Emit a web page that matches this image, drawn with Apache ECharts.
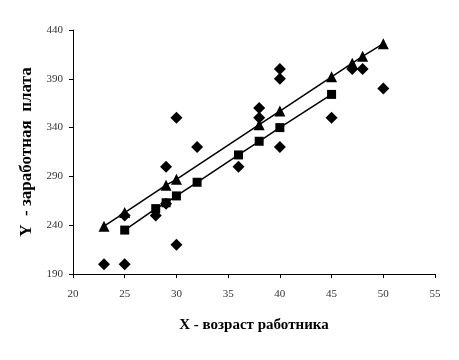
<!DOCTYPE html>
<html>
<head>
<meta charset="utf-8">
<script src="https://cdn.jsdelivr.net/npm/echarts@6/dist/echarts.min.js"></script>
<style>html,body{margin:0;padding:0;background:#fff}#c{width:459px;height:360px}</style>
</head>
<body>
<div id="c"></div>
<script>
// Observed data (diamonds)
var obsX = [23, 25, 25, 28, 29, 29, 30, 30, 32, 36, 38, 38, 40, 40, 40, 45, 47, 48, 50];
var obsY = [200, 200, 250, 250, 300, 262, 350, 220, 320, 300, 360, 350, 400, 390, 320, 350, 400, 400, 380];
// Line with squares
var sqX = [25, 28, 29, 30, 32, 36, 38, 40, 45];
var sqY = [235, 257, 263, 270, 284, 312, 326, 340, 374];
// Line with triangles
var trX = [23, 25, 29, 30, 38, 40, 45, 47, 48, 50];
var trY = [239, 253, 281, 287, 343, 357, 392, 406, 413, 426];
// Axis labels
var xName = 'X - возраст работника';
var yName = 'Y  - заработная  плата';

function pairs(xs, ys) { return xs.map(function (x, i) { return [x, ys[i]]; }); }

var chart = echarts.init(document.getElementById('c'), null, { renderer: 'canvas' });
var labelStyle = { color: '#333', fontFamily: 'Liberation Serif', fontSize: 11 };
chart.setOption({
  animation: false,
  backgroundColor: '#fff',
  grid: { left: 73, right: 24, top: 30, bottom: 86 },
  xAxis: {
    type: 'value', min: 20, max: 55, interval: 5,
    splitLine: { show: false },
    axisLine: { lineStyle: { color: '#000', width: 1 } },
    axisTick: { length: 4, lineStyle: { color: '#000' } },
    axisLabel: Object.assign({ margin: 15 }, labelStyle),
    name: xName, nameLocation: 'middle', nameGap: 44,
    nameTextStyle: { color: '#000', fontFamily: 'Liberation Serif', fontWeight: 'bold', fontSize: 15 }
  },
  yAxis: {
    type: 'value', min: 190, max: 440, interval: 50,
    splitLine: { show: false },
    axisLine: { lineStyle: { color: '#000', width: 1 } },
    axisTick: { length: 4, lineStyle: { color: '#000' } },
    axisLabel: Object.assign({ margin: 10 }, labelStyle),
    name: yName, nameLocation: 'middle', nameGap: 29,
    nameTextStyle: { color: '#000', fontFamily: 'Liberation Serif', fontWeight: 'bold', fontSize: 17 }
  },
  series: [
    {
      type: 'scatter', data: pairs(obsX, obsY),
      symbol: 'diamond', symbolSize: 12,
      itemStyle: { color: '#000', opacity: 1 }
    },
    {
      type: 'line', data: pairs(sqX, sqY),
      symbol: 'rect', symbolSize: 9, showAllSymbol: true,
      lineStyle: { color: '#000', width: 1.5 },
      itemStyle: { color: '#000', opacity: 1 }
    },
    {
      type: 'line', data: pairs(trX, trY),
      symbol: 'triangle', symbolSize: 11, showAllSymbol: true,
      lineStyle: { color: '#000', width: 1.5 },
      itemStyle: { color: '#000', opacity: 1 }
    }
  ]
});
</script>
</body>
</html>
